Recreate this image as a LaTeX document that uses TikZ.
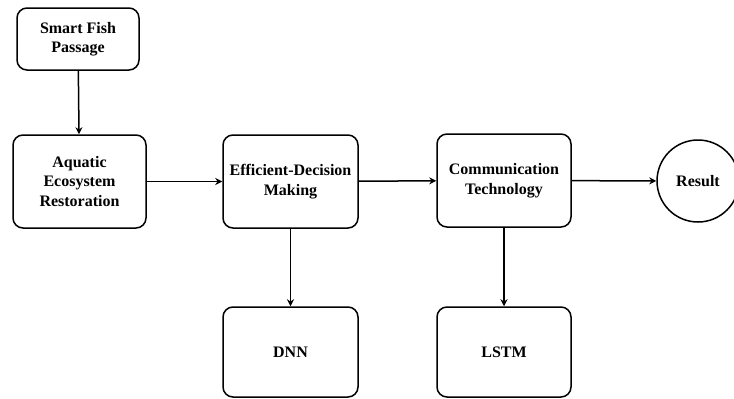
\documentclass[tikz,border=0pt]{standalone}
\usepackage{fontspec}
\setmainfont{Liberation Serif}
\usetikzlibrary{arrows.meta}
\begin{document}
\begin{tikzpicture}[x=1pt,y=-1pt,
  box/.style={draw,line width=1.5pt,rounded corners=10pt,align=center,inner sep=0pt,
    font=\fontsize{16}{19.5}\selectfont\bfseries},
  conn/.style={line width=1.5pt,-{Stealth[length=7pt,width=7pt]}}]
\useasboundingbox (0,0) rectangle (734,399);
\node[box,minimum width=122pt,minimum height=62pt] (sfp) at (78,39) {Smart Fish\\Passage};
\node[box,minimum width=133pt,minimum height=93pt] (aer) at (79.5,181.5) {Aquatic\\Ecosystem\\Restoration};
\node[box,minimum width=135pt,minimum height=93pt] (edm) at (290.5,181.5) {Efficient-Decision\\Making};
\node[box,minimum width=134pt,minimum height=93pt] (ct) at (504,180.5) {Communication\\Technology};
\node[draw,line width=1.5pt,circle,minimum size=82pt,inner sep=0pt,font=\fontsize{16}{19.5}\selectfont\bfseries] (res) at (698,181) {Result};
\node[box,minimum width=135pt,minimum height=90pt] (dnn) at (290.5,352) {DNN};
\node[box,minimum width=134pt,minimum height=90pt] (lstm) at (504,352) {LSTM};
\draw[conn] (sfp) -- (aer);
\draw[conn] (aer) -- (edm);
\draw[conn] (edm) -- (ct);
\draw[conn] (ct) -- (res);
\draw[conn] (edm) -- (dnn);
\draw[conn] (ct) -- (lstm);
\end{tikzpicture}
\end{document}
